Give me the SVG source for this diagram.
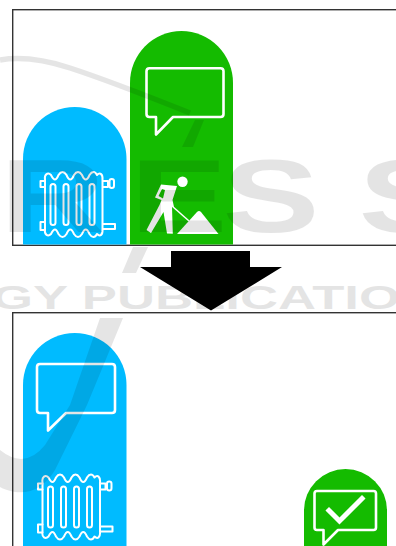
<svg xmlns="http://www.w3.org/2000/svg" width="396" height="546" viewBox="0 0 396 546">
<style>
.frame{fill:#fff;stroke:#333;stroke-width:1.4}
.blue{fill:#00bbff}
.green{fill:#14bb00}
.ln{fill:none;stroke:#fff;stroke-width:2.6;stroke-linejoin:round;stroke-linecap:round}
.thin{fill:none;stroke:#fff;stroke-width:2;stroke-linejoin:round;stroke-linecap:round}
.wm{font-family:"Liberation Sans",Arial,sans-serif;font-weight:700;fill:#000;opacity:.1}
</style>
<defs>
<g id="radiator">
<path class="thin" d="M45 180C44 174 48 172 51 175C54 181 56 181 58.500 175C61 171 64 171 66.500 175C69 181 71.500 181 74 175C76.500 171 79.500 171 82 175C84.500 181 87 181 89.500 175C92 171 95 171 97 175C100 172 103 174 102.500 180V229C103 235 100 237 97 234C95 238 92 238 89.500 234C87 228 84.500 228 82 234C79.500 238 76.500 238 74 234C71.500 228 69 228 66.500 234C64 238 61 238 58.500 234C56 228 54 228 51 234C48 237 44 235 45 229Z"/>
<rect class="thin" x="50.500" y="184" width="5" height="41" rx="2.500"/>
<rect class="thin" x="63.500" y="184" width="5" height="41" rx="2.500"/>
<rect class="thin" x="76.500" y="184" width="5" height="41" rx="2.500"/>
<rect class="thin" x="89.500" y="184" width="5" height="41" rx="2.500"/>
<path class="thin" d="M45 181H40.500V187H45M45 222H40.500V230H45M103 181H108V187H103M103 224H115V229H103"/>
<rect class="thin" x="109.500" y="179" width="4.500" height="9" rx="2.200"/>
</g>
</defs>
<rect width="396" height="546" fill="#fff"/>
<g id="panel-top">
<rect class="frame" x="12.700" y="9.700" width="390" height="235.600"/>
</g>
<g id="node-heating-before">
<path class="blue" d="M23 244.600V159A51.700 52 0 0 1 126.500 159V244.600Z"/>
<use href="#radiator"/>
</g>
<g id="node-comfort-before">
<path class="green" d="M130 244.600V83A51.500 52 0 0 1 233 83V244.600Z"/>
<path class="ln" d="M149.500 68.200H220.500Q223.500 68.200 223.500 71.200V114Q223.500 117 220.500 117H173L156 134.500V117H149.500Q146.500 117 146.500 114V71.200Q146.500 68.200 149.500 68.200Z"/>
<circle cx="182.500" cy="181.700" r="5.200" fill="#fff"/>
<path fill="#fff" d="M161 184.500L177 186L172.500 200L174 207L172 206.500L172.800 233.800L167 233.500L163.500 212L151 233L146.500 230L159.500 205L161.500 200L155 197.500ZM162 189L158.500 196L163 198.500L165 190Z"/>
<path fill="none" stroke="#fff" stroke-width="1.500" d="M172 206L189 221"/>
<path fill="#fff" d="M177 234L197 212Q199 210 201 212L218.500 234Z"/>
</g>
<g id="connectors">
<path id="arrow-down" fill="#000" d="M171 251H250V267H282L211 310.500L140 267H171Z"/>
</g>
<g id="panel-bottom">
<rect class="frame" x="12.700" y="312.700" width="390" height="240"/>
</g>
<g id="node-heating-after">
<path class="blue" d="M23 546V385A51.700 52 0 0 1 126.500 385V546Z"/>
<path class="ln" d="M40 364H112Q115 364 115 367V410Q115 413 112 413H66L48 430.500V413H40Q37 413 37 410V367Q37 364 40 364Z"/>
<use href="#radiator" x="-2.500" y="302.500"/>
</g>
<g id="node-comfort-after">
<path class="green" d="M304 546V510.500A41.500 41.500 0 0 1 387 510.500V546Z"/>
<path class="ln" d="M317 491H373.500Q376 491 376 493.500V527.500Q376 530 373.500 530H338L323.500 544.500V530H317Q314.500 530 314.500 527.500V493.500Q314.500 491 317 491Z"/>
<path fill="none" stroke="#fff" stroke-width="5" stroke-linecap="square" d="M329 510.500L339.500 521L362 498.500"/>
</g>
<g id="watermark">
<text class="wm" transform="scale(1.4 1)" x="0 93 159 256" y="232" font-size="104">RESS</text>
<text class="wm" x="-8" y="309" font-size="34" textLength="408" lengthAdjust="spacingAndGlyphs">GY PUBLICATIO</text>
<path d="M0 60Q30 55 70 68T190 113" fill="none" stroke="#000" stroke-opacity=".1" stroke-width="5.500"/>
<path d="M195 120H204L193 147H182ZM133 247H148L136 273H122ZM100 318H123L87 405L55 470Q40 495 15 492Q5 490 0 487V450Q25 470 45 445L70 405Z" fill="#000" opacity=".1"/>
</g>
</svg>
